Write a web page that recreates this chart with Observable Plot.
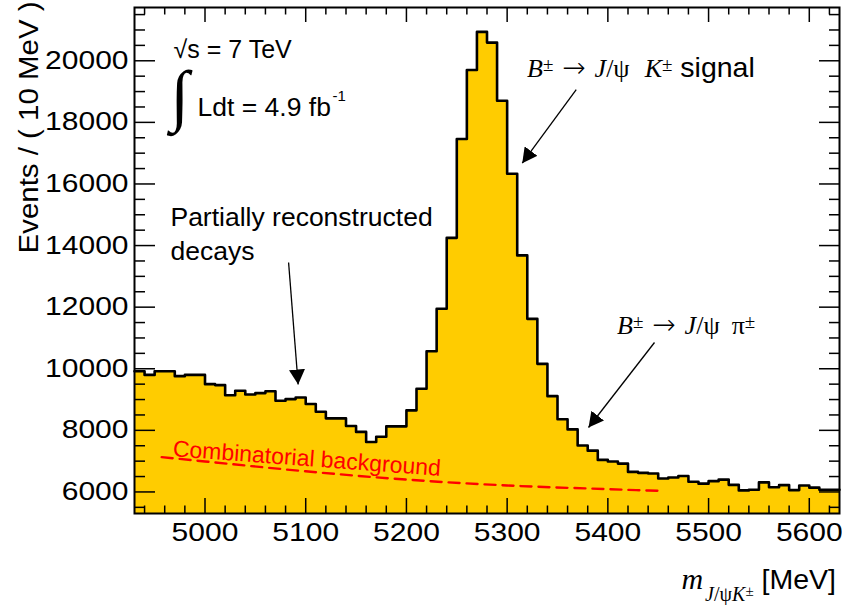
<!DOCTYPE html>
<html>
<head>
<meta charset="utf-8">
<script src="https://cdn.jsdelivr.net/npm/d3@7"></script>
<script src="https://cdn.jsdelivr.net/npm/@observablehq/plot@0.6"></script>
<style>
  body { margin: 0; background: #fff; }
  svg { display: block; }
</style>
</head>
<body>
<div id="chart"></div>
<script>
// ---------------- data ----------------
const binLow = [
  4930, 4940, 4950, 4960, 4970, 4980, 4990, 5000, 5010, 5020,
  5030, 5040, 5050, 5060, 5070, 5080, 5090, 5100, 5110, 5120,
  5130, 5140, 5150, 5160, 5170, 5180, 5190, 5200, 5210, 5220,
  5230, 5240, 5250, 5260, 5270, 5280, 5290, 5300, 5310, 5320,
  5330, 5340, 5350, 5360, 5370, 5380, 5390, 5400, 5410, 5420,
  5430, 5440, 5450, 5460, 5470, 5480, 5490, 5500, 5510, 5520,
  5530, 5540, 5550, 5560, 5570, 5580, 5590, 5600, 5610, 5620
];
const events = [
  9920, 9800, 9920, 9920, 9760, 9800, 9800, 9500, 9470, 9140,
  9285, 9165, 9210, 9270, 8960, 9015, 9065, 8855, 8605, 8390,
  8390, 8140, 7950, 7620, 7790, 8130, 8130, 8650, 9350, 10570,
  11950, 14250, 17460, 19700, 20940, 20590, 18700, 16330, 13680, 11620,
  10160, 9110, 8360, 8030, 7510, 7340, 7040, 6990, 6920, 6650,
  6620, 6600, 6435, 6470, 6520, 6330, 6270, 6350, 6400, 6230,
  6050, 6070, 6310, 6150, 6220, 6060, 6210, 6140, 6070, 6070
];
const binWidth = 10;

// combinatorial background (dashed red curve)
const bgMass   = [4957, 5000, 5100, 5200, 5300, 5400, 5456];
const bgEvents = [7130, 6990, 6670, 6400, 6210, 6090, 6030];

const xMajor = [5000, 5100, 5200, 5300, 5400, 5500, 5600];
const xMinor = [4940, 4960, 4980, 5020, 5040, 5060, 5080, 5120, 5140, 5160, 5180,
                5220, 5240, 5260, 5280, 5320, 5340, 5360, 5380, 5420, 5440, 5460, 5480,
                5520, 5540, 5560, 5580, 5620];
const yMajor = [6000, 8000, 10000, 12000, 14000, 16000, 18000, 20000];
const yMinor = [5500, 6500, 7000, 7500, 8500, 9000, 9500, 10500, 11000, 11500,
                12500, 13000, 13500, 14500, 15000, 15500, 16500, 17000, 17500,
                18500, 19000, 19500, 20500, 21000, 21500];

const yLabel = "Events / ( 10 MeV )";
const energyText = "√s = 7 TeV";
const lumiText = "Ldt = 4.9 fb";
const lumiExp = "-1";
const partialText = "Partially reconstructed\ndecays";
const combText = "Combinatorial background";

// annotation arrows (data coordinates: start -> tip)
const arrows = [
  {x1: 5083, y1: 13450, x2: 5092.5, y2: 9490},
  {x1: 5368.6, y1: 19067, x2: 5315, y2: 16674},
  {x1: 5446.3, y1: 10852, x2: 5380.8, y2: 8092}
];

// ---------------- layout ----------------
const W = 842, H = 605, mL = 134, mR = 3, mT = 7, mB = 92;
const iW = W - mL - mR, iH = H - mT - mB;
const SANS = "'Liberation Sans', Arial, Helvetica, sans-serif";
const SERIF = "'Liberation Serif', 'Times New Roman', serif";
const ARROWF = "'DejaVu Sans', sans-serif";

const bins = binLow.map((lo, i) => ({x: lo, y: events[i]}));
const outline = bins.concat([{x: binLow[binLow.length - 1] + binWidth, y: events[events.length - 1]}]);
const bg = bgMass.map((m, i) => ({x: m, y: bgEvents[i]}));

const tickStyle = {stroke: "black", strokeWidth: 1.5};

const plot = Plot.plot({
  width: W, height: H,
  marginLeft: mL, marginRight: mR, marginTop: mT, marginBottom: mB,
  x: {domain: [4930, 5630], label: null},
  y: {domain: [5300, 21730], label: null},
  style: {fontFamily: SANS, fontSize: "25px", background: "white", color: "black"},
  marks: [
    Plot.areaY(outline, {x: "x", y: "y", curve: "step-after", fill: "#ffcc00", clip: true}),
    Plot.line(bg, {x: "x", y: "y", curve: "monotone-x", stroke: "#ff0000", strokeWidth: 2.4, strokeDasharray: "11,7"}),
    Plot.line(outline, {x: "x", y: "y", curve: "step-after", stroke: "black", strokeWidth: 2.6}),
    // inward ticks on all four sides
    Plot.tickX(xMajor, {x: d => d, insetTop: iH - 15, ...tickStyle}),
    Plot.tickX(xMinor, {x: d => d, insetTop: iH - 7.5, ...tickStyle}),
    Plot.tickX(xMajor, {x: d => d, insetBottom: iH - 15, ...tickStyle}),
    Plot.tickX(xMinor, {x: d => d, insetBottom: iH - 7.5, ...tickStyle}),
    Plot.tickY(yMajor, {y: d => d, insetRight: iW - 21, ...tickStyle}),
    Plot.tickY(yMinor, {y: d => d, insetRight: iW - 11, ...tickStyle}),
    Plot.tickY(yMajor, {y: d => d, insetLeft: iW - 20, ...tickStyle}),
    Plot.tickY(yMinor, {y: d => d, insetLeft: iW - 10, ...tickStyle}),
    Plot.frame({stroke: "black", strokeWidth: 2}),
    Plot.axisX({ticks: xMajor, tickSize: 0, tickPadding: 10, tickFormat: d => String(d), label: null, fontSize: 25}),
    Plot.axisY({ticks: yMajor, tickSize: 0, tickPadding: 6, tickFormat: d => String(d), label: null, fontSize: 25}),
    Plot.link(arrows, {x1: "x1", y1: "y1", x2: "x2", y2: "y2", stroke: "black", strokeWidth: 1.3}),
    Plot.text([energyText], {x: 4968.8, y: 20106, text: d => d, textAnchor: "start", lineAnchor: "bottom", fontSize: 25}),
    Plot.text(["∫"], {x: 4974.7, y: 18150, text: d => d, textAnchor: "middle", lineAnchor: "bottom", fontSize: 68, fontFamily: SERIF}),
    Plot.text([lumiText], {x: 4992.6, y: 18223, text: d => d, textAnchor: "start", lineAnchor: "bottom", fontSize: 26.5}),
    Plot.text([lumiExp], {x: 5126.6, y: 18710, text: d => d, textAnchor: "start", lineAnchor: "bottom", fontSize: 15}),
    Plot.text([partialText], {x: 4965.7, y: 13538, text: d => d, textAnchor: "start", lineAnchor: "bottom", fontSize: 26.5, lineHeight: 1.27}),
    Plot.text([combText], {x: 4967.7, y: 7160, text: d => d, textAnchor: "start", lineAnchor: "bottom", fontSize: 23, fill: "#ff0000", rotate: 4.2}),
    Plot.text([yLabel], {frameAnchor: "top-left", text: d => d, rotate: -90, textAnchor: "end", lineAnchor: "bottom", dx: -97, dy: -6, fontSize: 27})
  ]
});

document.getElementById("chart").append(plot);
const svgEl = plot.tagName.toLowerCase() === "svg" ? plot : plot.querySelector("svg");
const svg = d3.select(svgEl);

function scalePx(name, v) {
  const s = plot.scale(name);
  if (s && typeof s.apply === "function") return s.apply(v);
  return d3.scaleLinear(s.domain, s.range)(v);
}

// filled triangular arrow heads
const defs = svg.insert("defs", ":first-child");
defs.append("marker")
  .attr("id", "ahead").attr("viewBox", "0 0 15 16").attr("refX", 15).attr("refY", 8)
  .attr("markerWidth", 15).attr("markerHeight", 16).attr("markerUnits", "userSpaceOnUse")
  .attr("orient", "auto")
  .append("path").attr("d", "M0,0L15,8L0,16Z").attr("fill", "black");
svg.selectAll('g[aria-label="link"] path').attr("marker-end", "url(#ahead)");

// rich (math) labels
function rich(x, y, anchor, parts) {
  const t = svg.append("text")
    .attr("x", x).attr("y", y)
    .attr("text-anchor", anchor)
    .attr("fill", "black")
    .style("white-space", "pre");
  for (const p of parts) {
    const s = t.append("tspan").text(p.t)
      .attr("font-family", p.ff || SERIF)
      .attr("font-size", p.fs || 26);
    if (p.it) s.attr("font-style", "italic");
    if (p.fw) s.attr("font-weight", p.fw);
    if (p.dy) s.attr("dy", p.dy);
    if (p.dx) s.attr("dx", p.dx);
  }
  return t;
}

rich(scalePx("x", 5320.2), scalePx("y", 19457), "start", [
  {t: "B", it: true},
  {t: "±", fs: 19, dy: -6},
  {t: " → ", ff: ARROWF, fs: 28, fw: 200, dy: 6},
  {t: "J", it: true},
  {t: "/"},
  {t: "ψ"},
  {t: "K", it: true, dx: 15},
  {t: "±", fs: 19, dy: -6},
  {t: " signal", ff: SANS, fs: 28.5, dy: 6}
]);

rich(scalePx("x", 5409.6), scalePx("y", 11112), "start", [
  {t: "B", it: true},
  {t: "±", fs: 19, dy: -6},
  {t: " → ", ff: ARROWF, fs: 28, fw: 200, dy: 6},
  {t: "J", it: true},
  {t: "/"},
  {t: "ψ"},
  {t: "π", dx: 12},
  {t: "±", fs: 19, dy: -6}
]);

rich(W - mR - 3, H - 16, "end", [
  {t: "m", it: true, fs: 30},
  {t: "J", it: true, fs: 20, dy: 12, dx: 2},
  {t: "/", fs: 20},
  {t: "ψ", fs: 20},
  {t: "K", it: true, fs: 20},
  {t: "±", fs: 15, dy: -5},
  {t: " [MeV]", ff: SANS, fs: 28.5, dy: -7}
]);

// widen the tick labels and axis title like the reference's wide Helvetica
function stretch(el, f) {
  const w = el.getComputedTextLength();
  if (w > 0) {
    el.setAttribute("textLength", (w * f).toFixed(1));
    el.setAttribute("lengthAdjust", "spacingAndGlyphs");
  }
}
svg.selectAll('g[aria-label*="tick label"] text').each(function() { stretch(this, 1.2); });
svg.selectAll("text").filter(function() { return this.textContent === yLabel; }).each(function() { stretch(this, 1.09); });
</script>
</body>
</html>
